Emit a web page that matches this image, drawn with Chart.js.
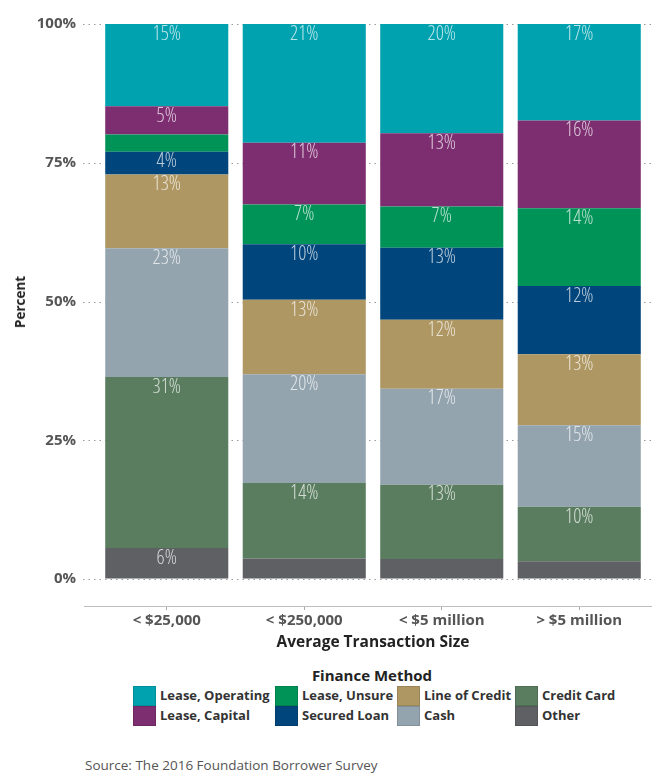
<!DOCTYPE html>
<html>
<head>
<meta charset="utf-8">
<script src="https://cdn.jsdelivr.net/npm/chart.js@4.4.1/dist/chart.umd.min.js"></script>
<style>
body{margin:0;background:#fff;font-family:"Open Sans",sans-serif;}
#wrap{position:relative;width:652px;height:775px;overflow:hidden;}
#chart{position:absolute;left:0;top:0;}
#ytitle{position:absolute;left:20px;top:302px;transform:translate(-50%,-50%) rotate(-90deg);font-weight:700;font-size:13.5px;color:#222;line-height:18px;white-space:nowrap;}
#legendTitle{position:absolute;left:0;width:744px;top:665px;text-align:center;font-weight:700;font-size:15px;color:#222;line-height:20px;}
.item{position:absolute;height:19px;font-weight:700;font-size:13px;color:#333;line-height:19px;white-space:nowrap;}
.item span.box{position:absolute;left:0;top:0;width:21px;height:18px;border:1px solid rgba(0,0,0,0.12);}
.item span.txt{position:absolute;left:27px;top:0;}
#source{position:absolute;left:85px;top:756px;font-size:13.5px;color:#555;line-height:18px;}
</style>
</head>
<body>
<div id="wrap">
  <canvas id="chart" width="652" height="655"></canvas>
  <div id="ytitle">Percent</div>
  <div id="legendTitle">Finance Method</div>
  <div id="legend"></div>
  <div id="source">Source: The 2016 Foundation Borrower Survey</div>
</div>
<script>
// categorias y valores (porcentaje), de abajo hacia arriba en cada barra
const categories = ["< $25,000", "< $250,000", "< $5 million", "> $5 million"];
const other          = [5.6, 3.7, 3.6, 3.2];
const creditCard     = [30.8, 13.6, 13.4, 9.8];
const cash           = [23.2, 19.6, 17.3, 14.7];
const lineOfCredit   = [13.3, 13.4, 12.4, 12.8];
const securedLoan    = [4.1, 10.0, 13.0, 12.3];
const leaseUnsure    = [3.1, 7.2, 7.4, 14.0];
const leaseCapital   = [5.1, 11.1, 13.2, 15.8];
const leaseOperating = [14.8, 21.4, 19.7, 17.4];
const yTicks = [0, 25, 50, 75, 100];

const series = [
  ["Other", other, "#5f6064"],
  ["Credit Card", creditCard, "#5a7d5f"],
  ["Cash", cash, "#94a4af"],
  ["Line of Credit", lineOfCredit, "#ae9762"],
  ["Secured Loan", securedLoan, "#00457b"],
  ["Lease, Unsure", leaseUnsure, "#009358"],
  ["Lease, Capital", leaseCapital, "#7d2e70"],
  ["Lease, Operating", leaseOperating, "#00a2af"]
];

const fam = "'Open Sans', sans-serif";
const tickFont = {family:fam, size:15, weight:"bold"};

// lineas punteadas y eje x (mas anchos que el area de barras)
const gridPlugin = {
  id:"gridPlugin",
  beforeDatasetsDraw(chart){
    const ctx = chart.ctx, y = chart.scales.y, area = chart.chartArea;
    ctx.save();
    ctx.strokeStyle = "#9a9a9a";
    ctx.lineWidth = 1;
    ctx.setLineDash([1.5, 4]);
    yTicks.forEach(v=>{
      const py = Math.round(y.getPixelForValue(v)) + 0.5;
      ctx.beginPath();
      ctx.moveTo(83, py);
      ctx.lineTo(chart.width, py);
      ctx.stroke();
    });
    ctx.setLineDash([]);
    ctx.strokeStyle = "#bdbdbd";
    ctx.beginPath();
    ctx.moveTo(84, area.bottom + 0.5);
    ctx.lineTo(chart.width, area.bottom + 0.5);
    ctx.stroke();
    ctx.restore();
  }
};

// etiquetas de porcentaje dentro de cada tramo
const labelPlugin = {
  id:"labelPlugin",
  afterDatasetsDraw(chart){
    const ctx = chart.ctx;
    ctx.save();
    ctx.font = "condensed 300 20px 'Open Sans'";
    ctx.fillStyle = "rgba(255,255,255,0.72)";
    ctx.textAlign = "center";
    ctx.textBaseline = "middle";
    chart.data.datasets.forEach((ds,i)=>{
      chart.getDatasetMeta(i).data.forEach((bar,j)=>{
        const v = ds.data[j];
        if(v < 4) return;
        const h = bar.base - bar.y;
        ctx.fillText(Math.round(v) + "%", bar.x, bar.y + Math.min(10, h/2));
      });
    });
    ctx.restore();
  }
};

new Chart(document.getElementById("chart"), {
  type:"bar",
  data:{
    labels:categories,
    datasets:series.map(s=>({
      label:s[0],
      data:s[1],
      backgroundColor:s[2],
      borderWidth:0,
      barPercentage:0.895,
      categoryPercentage:1
    }))
  },
  options:{
    responsive:false,
    animation:false,
    events:[],
    layout:{padding:{top:24, right:4, left:0, bottom:0}},
    plugins:{legend:{display:false}, tooltip:{enabled:false}},
    scales:{
      x:{
        stacked:true,
        grid:{display:true, drawOnChartArea:false, drawTicks:true, tickLength:4, offset:false, color:"#aaa"},
        border:{display:false},
        ticks:{font:tickFont, color:"#555", padding:2},
        title:{display:true, text:"Average Transaction Size", color:"#222",
               font:{family:fam, size:15.5, weight:"bold"}, padding:{top:0, bottom:3}},
        afterFit(s){ s.height = 49; }
      },
      y:{
        stacked:true,
        min:-4.86,
        max:100,
        grid:{display:true, drawOnChartArea:false, drawTicks:true, tickLength:20, color:"rgba(0,0,0,0)"},
        border:{display:false},
        ticks:{stepSize:25, padding:2, font:tickFont, color:"#555", callback:v=>v + "%"},
        afterBuildTicks(s){ s.ticks = yTicks.map(v=>({value:v})); },
        afterFit(s){ s.width = 98; }
      }
    }
  },
  plugins:[gridPlugin, labelPlugin]
});

// leyenda: de arriba hacia abajo, por columnas de dos filas
const legendCols = [133, 275, 397, 515];
const legendRows = [686, 706];
const legend = document.getElementById("legend");
series.slice().reverse().forEach((s,k)=>{
  const el = document.createElement("div");
  el.className = "item";
  el.style.left = legendCols[Math.floor(k/2)] + "px";
  el.style.top = legendRows[k%2] + "px";
  el.innerHTML = '<span class="box" style="background:' + s[2] + '"></span><span class="txt">' + s[0] + '</span>';
  legend.appendChild(el);
});
</script>
</body>
</html>
